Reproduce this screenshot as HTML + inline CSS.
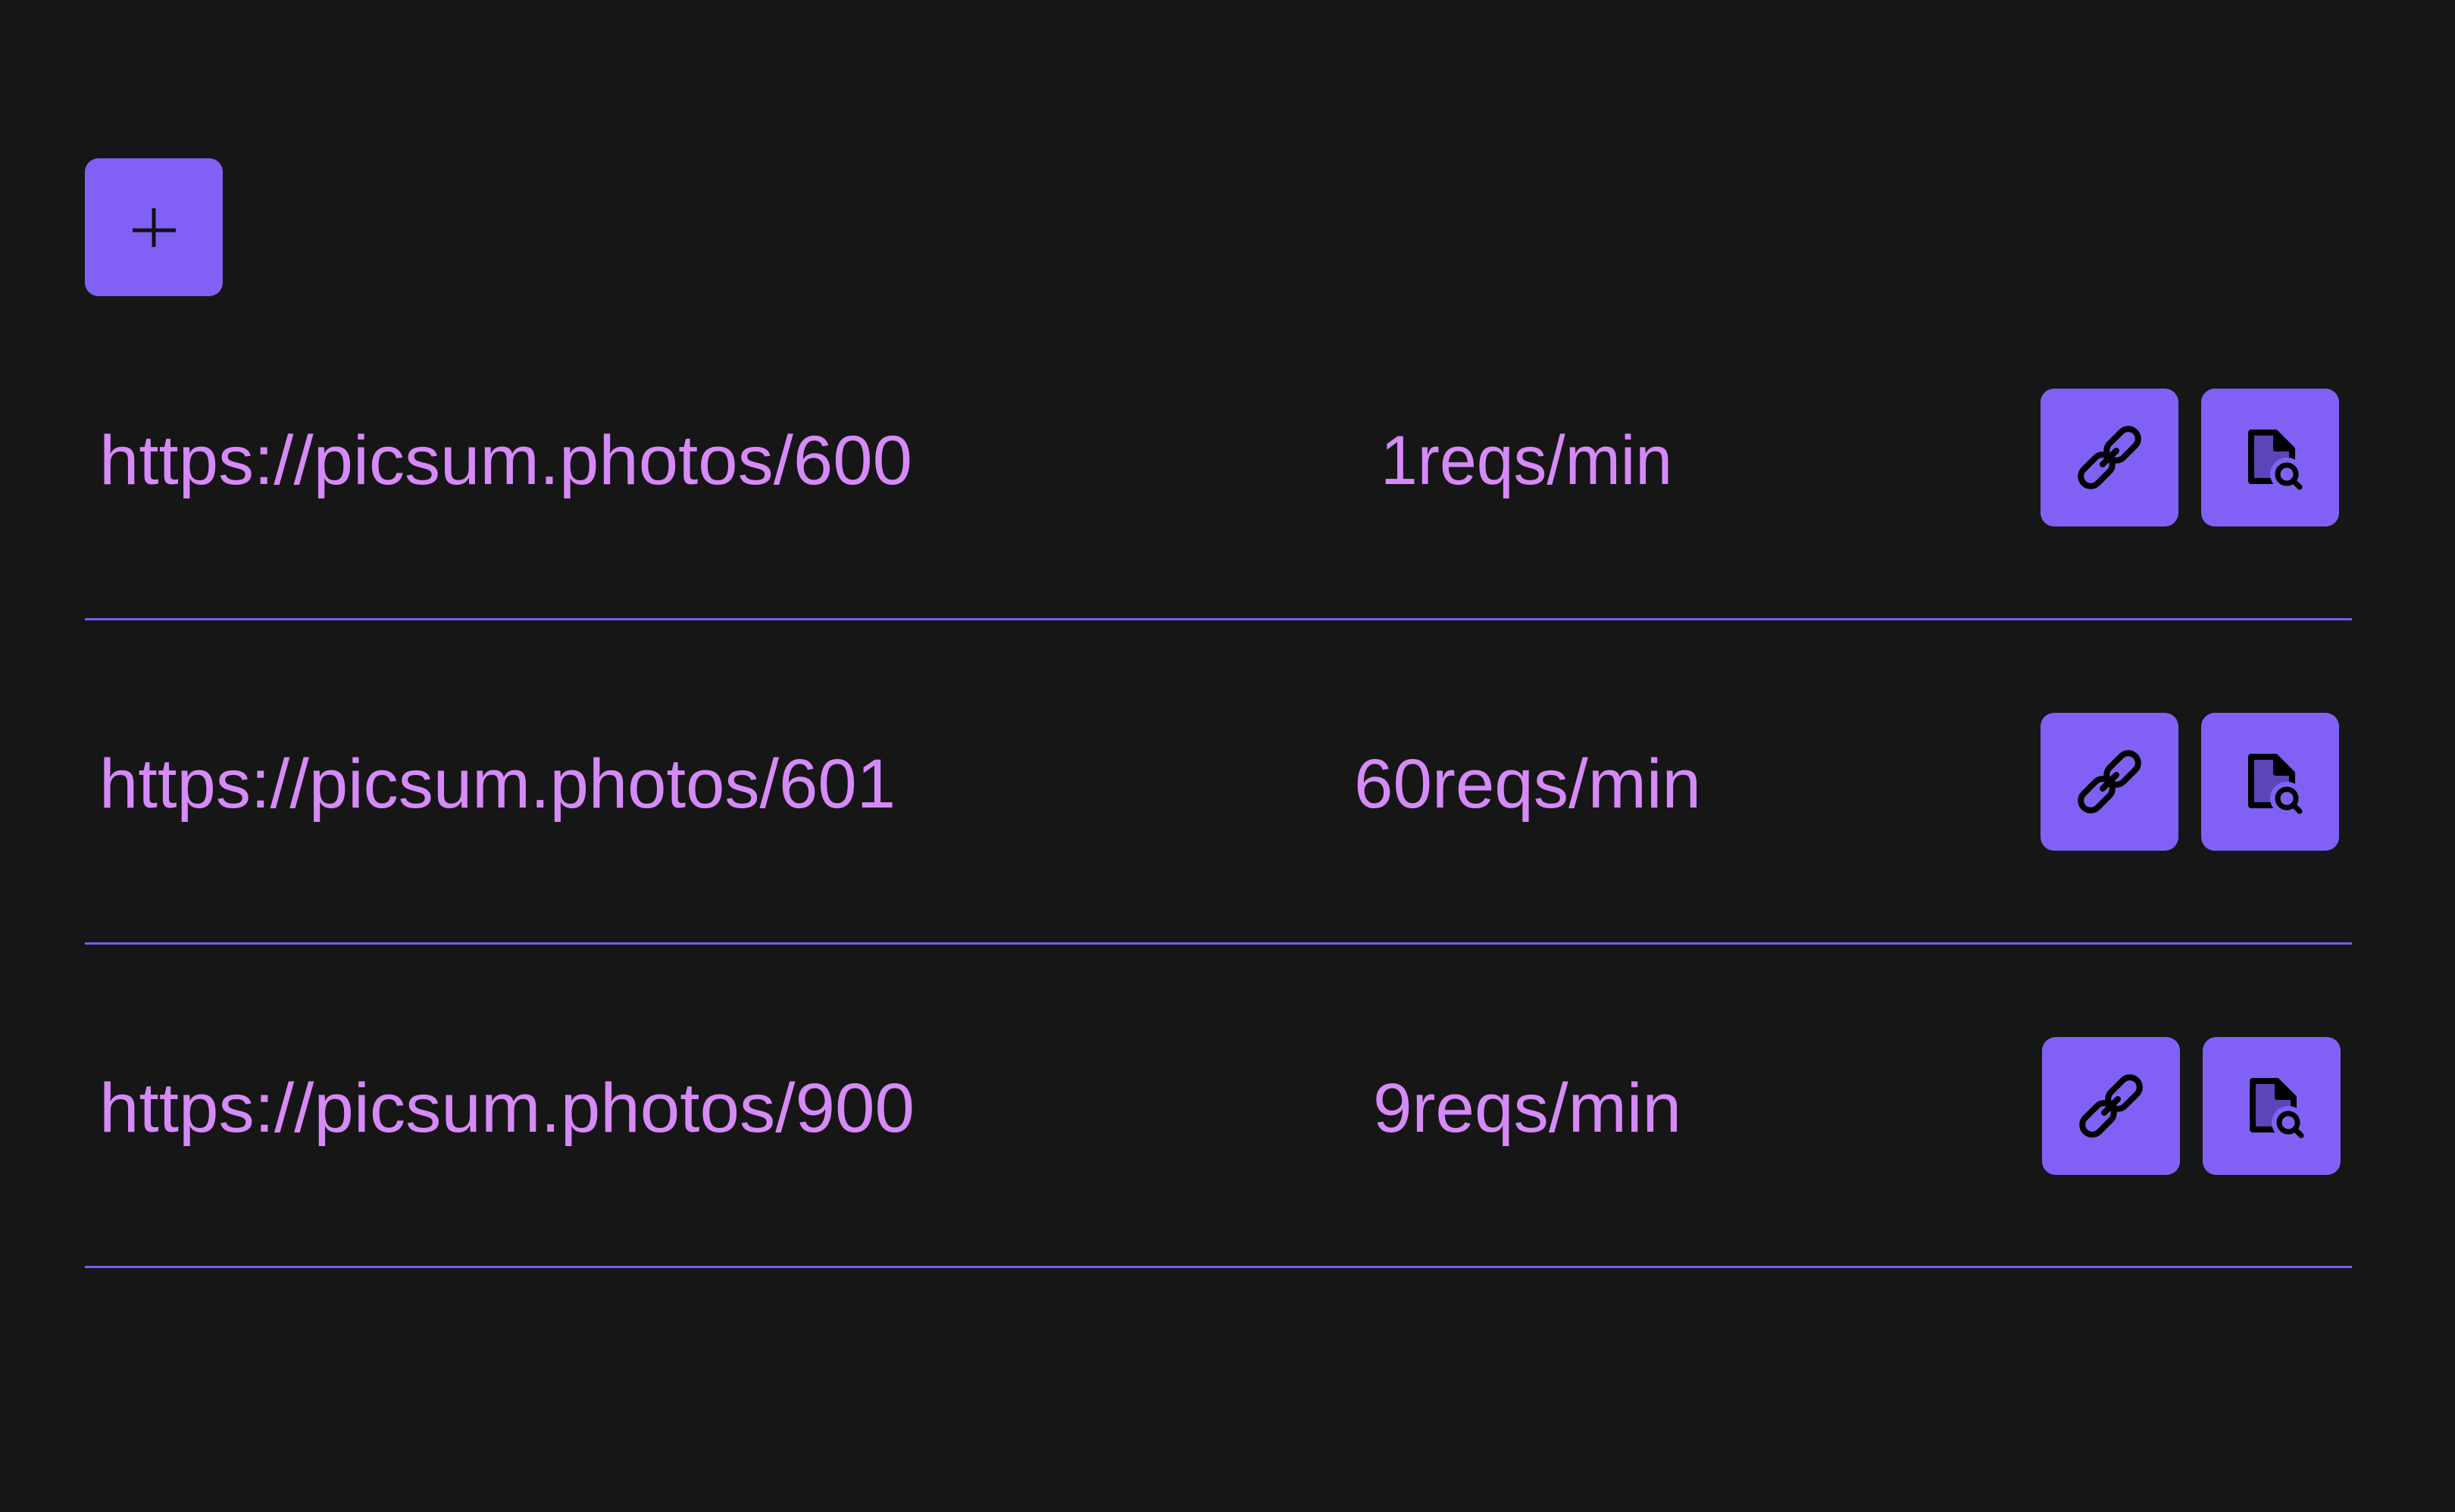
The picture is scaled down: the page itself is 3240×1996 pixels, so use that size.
<!DOCTYPE html>
<html><head><meta charset="utf-8"><style>
html,body{margin:0;padding:0;background:#161616;}
svg{display:block}
</style></head><body>
<svg width="3240" height="1996" viewBox="0 0 3240 1996" xmlns="http://www.w3.org/2000/svg">
<defs>
<g id="link">
  <rect width="182" height="182" rx="18" fill="#8161f5"/>
  <g fill="none" stroke="#000" stroke-width="8" stroke-linecap="round">
    <rect x="-24" y="-13" width="48" height="26" rx="13" transform="translate(108,74) rotate(-45)"/>
    <rect x="-24" y="-13" width="48" height="26" rx="13" transform="translate(74,108) rotate(-45)"/>
    <line x1="82" y1="100" x2="100" y2="82"/>
  </g>
</g>
<g id="doc">
  <rect width="182" height="182" rx="18" fill="#8161f5"/>
  <path d="M66 58 H98 L120 80 V122 H66 Z" fill="#5b45b8" stroke="#000" stroke-width="8" stroke-linejoin="round"/>
  <path d="M98 58 L120 80 H98 Z" fill="#000" stroke="#000" stroke-width="6" stroke-linejoin="round"/>
  <circle cx="113" cy="113" r="22" fill="#8161f5"/>
  <circle cx="113" cy="113" r="12" fill="none" stroke="#000" stroke-width="7"/>
  <line x1="122" y1="122" x2="130" y2="130" stroke="#000" stroke-width="7" stroke-linecap="round"/>
</g>
</defs>
<rect width="3240" height="1996" fill="#161616"/>
<rect x="112" y="209" width="182" height="182" rx="18" fill="#8161f5"/>
<line x1="203" y1="275" x2="203" y2="326" stroke="#111" stroke-width="5"/>
<line x1="175" y1="304" x2="232" y2="304" stroke="#111" stroke-width="5"/>

<g font-family="Liberation Sans, sans-serif" font-size="92" fill="#d68af7">
  <text x="131" y="639" textLength="1073" lengthAdjust="spacingAndGlyphs">https://picsum.photos/600</text>
  <text x="1822" y="639" textLength="385" lengthAdjust="spacingAndGlyphs">1reqs/min</text>
  <text x="131" y="1066" textLength="1051" lengthAdjust="spacingAndGlyphs">https://picsum.photos/601</text>
  <text x="1787" y="1066" textLength="458" lengthAdjust="spacingAndGlyphs">60reqs/min</text>
  <text x="131" y="1494" textLength="1076" lengthAdjust="spacingAndGlyphs">https://picsum.photos/900</text>
  <text x="1812" y="1494" textLength="407" lengthAdjust="spacingAndGlyphs">9reqs/min</text>
</g>

<use href="#link" x="2693" y="513"/>
<use href="#doc" x="2905" y="513"/>
<use href="#link" x="2693" y="941"/>
<use href="#doc" x="2905" y="941"/>
<use href="#link" x="2695" y="1369"/>
<use href="#doc" x="2907" y="1369"/>

<rect x="112" y="816" width="2992" height="3" fill="#7a5cf0"/>
<rect x="112" y="1244" width="2992" height="3" fill="#7a5cf0"/>
<rect x="112" y="1671" width="2992" height="3" fill="#7a5cf0"/>
</svg>
</body></html>
